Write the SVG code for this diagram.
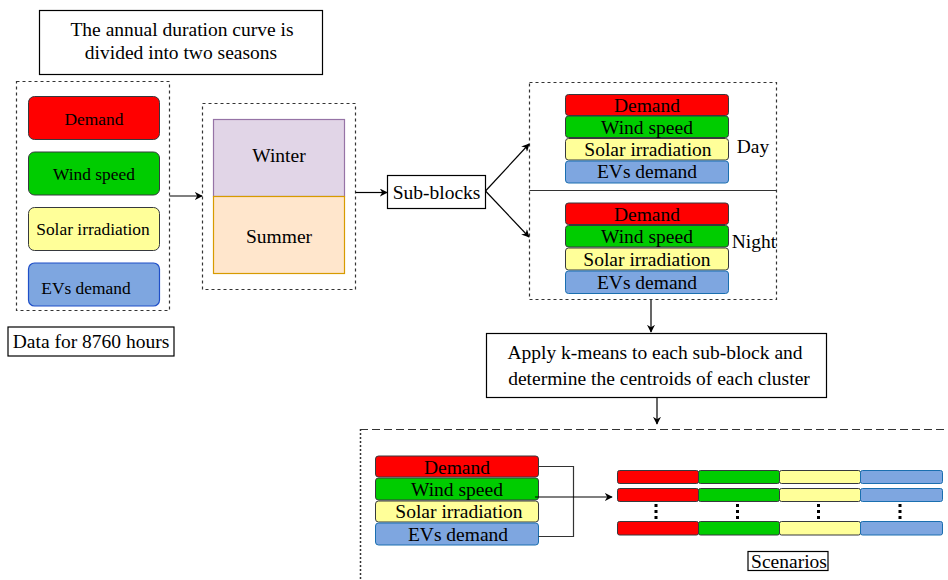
<svg xmlns="http://www.w3.org/2000/svg" width="948" height="580" viewBox="0 0 948 580" font-family="'Liberation Serif', 'DejaVu Serif', serif">
<defs>
<marker id="arr" viewBox="0 0 10 10" refX="9" refY="5" markerWidth="8" markerHeight="8" markerUnits="userSpaceOnUse" orient="auto">
<path d="M0,0 L10,5 L0,10 L3,5 Z" fill="#000"/>
</marker>
</defs>
<style>
text{font-family:'Liberation Serif','DejaVu Serif',serif;font-size:17.4px;fill:#000;text-anchor:middle}
.box{fill:#fff;stroke:#000;stroke-width:1.2}
.dash{fill:none;stroke:#333;stroke-width:1.2;stroke-dasharray:3,3}
.red{fill:#ff0000;stroke:#36393d;stroke-width:1}
.grn{fill:#00cc00;stroke:#36393d;stroke-width:1}
.yel{fill:#ffff99;stroke:#36393d;stroke-width:1}
.blu{fill:#7ea6e0;stroke:#1a6fb0;stroke-width:1}
.con{fill:none;stroke:#000;stroke-width:1.2;marker-end:url(#arr)}
.ln{fill:none;stroke:#333;stroke-width:1.2}
.dots{stroke:#000;stroke-width:3;stroke-dasharray:3,3}
.big{font-size:19.5px}
</style>
<rect width="948" height="580" fill="#fff"/>

<g id="title">
<rect class="box" x="39.5" y="10.5" width="283" height="64"/>
<text class="big" x="182" y="36">The annual duration curve is</text>
<text class="big" x="181" y="59">divided into two seasons</text>
</g>

<g id="data">
<rect class="dash" x="16.5" y="81.5" width="153" height="229"/>
<rect class="red" x="28.5" y="96.5" width="131" height="43" rx="6"/>
<text x="94" y="125">Demand</text>
<rect class="grn" x="28.5" y="152" width="131" height="43" rx="6"/>
<text x="94" y="180">Wind speed</text>
<rect class="yel" x="28.5" y="207.5" width="131" height="43" rx="6"/>
<text x="93" y="235">Solar irradiation</text>
<rect x="28.5" y="263" width="131" height="43" rx="6" fill="#7ea6e0" stroke="#1f4fc8" stroke-width="1.2"/>
<text x="86" y="294">EVs demand</text>
</g>

<g id="data-label">
<rect class="box" x="8" y="327" width="166" height="29"/>
<text class="big" x="91" y="348">Data for 8760 hours</text>
</g>

<g id="seasons">
<rect class="dash" x="202.5" y="103.5" width="153" height="186"/>
<rect x="213.5" y="119.5" width="131" height="77" fill="#e1d5e7" stroke="#9673a6" stroke-width="1.2"/>
<text class="big" x="279" y="161.5">Winter</text>
<rect x="213.5" y="196.5" width="131" height="77" fill="#ffe6cc" stroke="#d79b00" stroke-width="1.2"/>
<text class="big" x="279" y="242.5">Summer</text>
</g>

<g id="subblocks">
<rect class="box" x="387.5" y="175.5" width="98" height="33"/>
<text class="big" x="436.5" y="198.5">Sub-blocks</text>
</g>

<g id="daynight">
<rect class="dash" x="529.5" y="82.5" width="247" height="217"/>
<line class="ln" x1="529.5" y1="190.5" x2="776.5" y2="190.5" stroke="#000"/>
<rect class="red" x="565.5" y="94.5" width="163" height="21" rx="3"/>
<text class="big" x="647" y="111.5">Demand</text>
<rect class="grn" x="565.5" y="116" width="163" height="21.5" rx="3"/>
<text class="big" x="647" y="133.5">Wind speed</text>
<rect class="yel" x="565.5" y="138.5" width="163" height="21.5" rx="3"/>
<text class="big" x="648" y="155.5">Solar irradiation</text>
<rect class="blu" x="565.5" y="161" width="163" height="22" rx="3"/>
<text class="big" x="647" y="177.5">EVs demand</text>
<text class="big" x="753" y="152.5">Day</text>
<rect class="red" x="565.5" y="203" width="163" height="21.5" rx="3"/>
<text class="big" x="647" y="220.5">Demand</text>
<rect class="grn" x="565.5" y="225.5" width="163" height="21.5" rx="3"/>
<text class="big" x="647" y="242.5">Wind speed</text>
<rect class="yel" x="565.5" y="248" width="163" height="22" rx="3"/>
<text class="big" x="647" y="265.5">Solar irradiation</text>
<rect class="blu" x="565.5" y="271" width="163" height="22.5" rx="3"/>
<text class="big" x="647" y="288.5">EVs demand</text>
<text class="big" x="754" y="248">Night</text>
</g>

<g id="kmeans">
<rect class="box" x="486.5" y="333.5" width="340" height="64"/>
<text class="big" x="655" y="358.5">Apply k-means to each sub-block and</text>
<text class="big" x="659" y="384.5">determine the centroids of each cluster</text>
</g>

<g id="scenarios">
<line x1="360" y1="429.5" x2="948" y2="429.5" stroke="#333" stroke-width="1.2" stroke-dasharray="8,4"/>
<line x1="360.5" y1="429" x2="360.5" y2="580" stroke="#333" stroke-width="1.5" stroke-dasharray="2,2"/>
<rect class="red" x="375.5" y="456" width="163" height="21" rx="3"/>
<text class="big" x="457" y="473.5">Demand</text>
<rect class="grn" x="375.5" y="478" width="163" height="22" rx="3"/>
<text class="big" x="457" y="495.5">Wind speed</text>
<rect class="yel" x="375.5" y="501" width="163" height="21" rx="3"/>
<text class="big" x="459" y="517.5">Solar irradiation</text>
<rect class="blu" x="375.5" y="523" width="163" height="22" rx="3"/>
<text class="big" x="458" y="540.5">EVs demand</text>
<polyline class="ln" points="538.5,466.5 573.5,466.5 573.5,536.5 538.5,536.5"/>

<g id="bars">
<rect class="red" x="617.5" y="470.5" width="81" height="13" rx="2"/>
<rect class="grn" x="698.5" y="470.5" width="81" height="13" rx="2"/>
<rect class="yel" x="779.5" y="470.5" width="81" height="13" rx="2"/>
<rect class="blu" x="860.5" y="470.5" width="82" height="13" rx="2"/>
<rect class="red" x="617.5" y="488.5" width="81" height="13" rx="2"/>
<rect class="grn" x="698.5" y="488.5" width="81" height="13" rx="2"/>
<rect class="yel" x="779.5" y="488.5" width="81" height="13" rx="2"/>
<rect class="blu" x="860.5" y="488.5" width="82" height="13" rx="2"/>
<rect class="red" x="617.5" y="521.5" width="81" height="13.5" rx="2"/>
<rect class="grn" x="698.5" y="521.5" width="81" height="13.5" rx="2"/>
<rect class="yel" x="779.5" y="521.5" width="81" height="13.5" rx="2"/>
<rect class="blu" x="860.5" y="521.5" width="82" height="13.5" rx="2"/>
<line class="dots" x1="656" y1="504" x2="656" y2="521"/>
<line class="dots" x1="737.5" y1="504" x2="737.5" y2="521"/>
<line class="dots" x1="818.5" y1="504" x2="818.5" y2="521"/>
<line class="dots" x1="900" y1="504" x2="900" y2="521"/>
</g>
<rect class="box" x="748" y="551.5" width="80" height="19"/>
<text class="big" x="789" y="567.5">Scenarios</text>
</g>

<g id="connectors">
<line class="con" x1="169.5" y1="196" x2="202" y2="196"/>
<line class="con" x1="355.5" y1="192.5" x2="387" y2="192.5"/>
<line class="con" x1="485.5" y1="191" x2="529" y2="144"/>
<line class="con" x1="485.5" y1="191" x2="529" y2="237"/>
<line class="con" x1="651" y1="300" x2="651" y2="332"/>
<line class="con" x1="657" y1="398" x2="657" y2="424"/>
<line class="con" x1="535" y1="497" x2="612" y2="497" stroke-width="1.6"/>
</g>
</svg>
